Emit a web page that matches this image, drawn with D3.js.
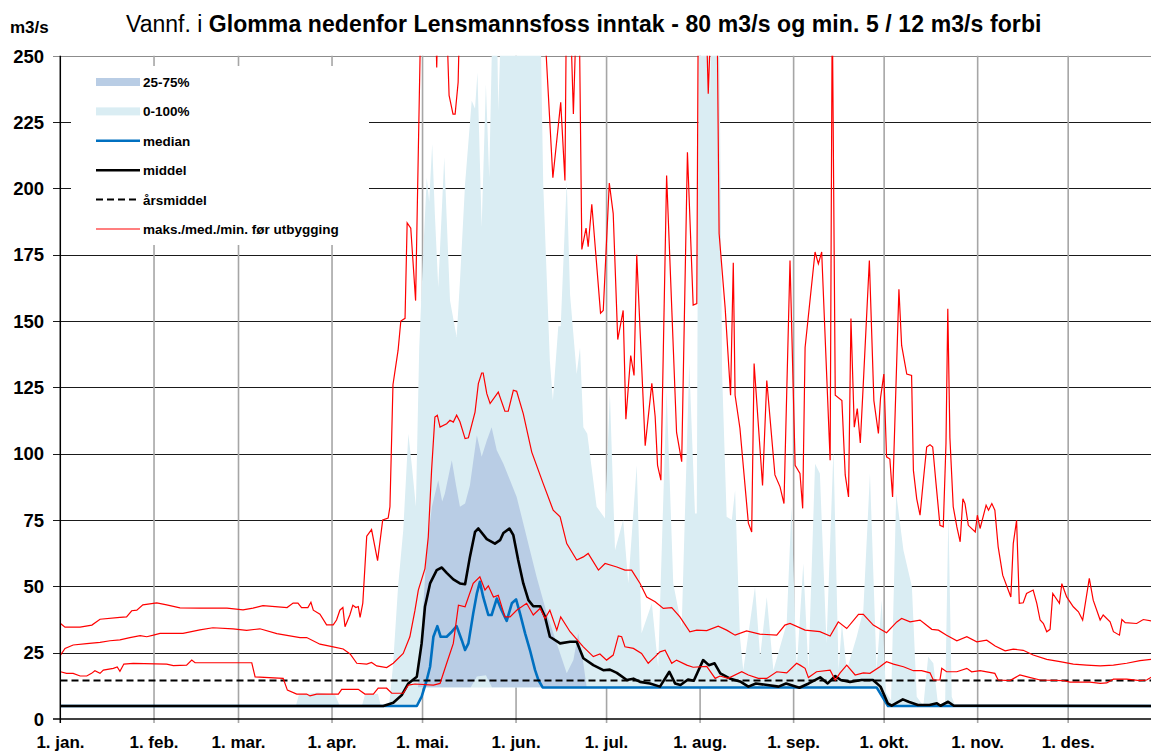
<!DOCTYPE html>
<meta charset="utf-8">
<title>Vannf. i Glomma nedenfor Lensmannsfoss inntak</title>
<style>
    body { margin: 0; background: #fff; }
    svg text { font-family: "Liberation Sans", Arial, sans-serif; }
</style>

<script src="https://d3js.org/d3.v7.min.js"></script>

<svg id="chart" width="1151" height="752"></svg>

<script>
    // --- data (day of year, m3/s) ---
    const monthStarts = [0, 31, 59, 90, 120, 151, 181, 212, 243, 273, 304, 334];
    const monthLabels = ["1. jan.", "1. feb.", "1. mar.", "1. apr.", "1. mai.", "1. jun.",
        "1. jul.", "1. aug.", "1. sep.", "1. okt.", "1. nov.", "1. des."];
    const yTicks = [0, 25, 50, 75, 100, 125, 150, 175, 200, 225, 250];
    const annualMean = 14.5;

    // 0-100% band
    const q100 = [[0,4.9],[78,4.9],[79,9],[85.4,10],[91,9],[92.6,4.9],[99.9,4.9],[100.9,9],[105.2,9.5],[106.2,4.9],
        [108.9,4.9],[110.2,20],[111.9,50],[113.6,71],[115.3,107.5],[116.5,95],[117.8,80],[118.9,140],[120.2,175],
        [121.4,204],[122.2,195],[123.2,216.7],[124.1,190],[125.2,162.7],[127.2,211.7],[129.1,157.7],[131.3,144],
        [132.4,165],[134.1,201.7],[136.3,233],[137.4,230],[138.2,243.7],[139.6,185.3],[141,239.3],[142.1,204],
        [143.3,270],[144.6,270],[145.1,229],[146.2,270],[159,270],[160,201.7],[162.2,135],[163.2,120],[165,148],
        [165.8,148],[167.8,203],[168.9,160],[171.1,130],[172.2,140],[173.3,110],[174.6,107.5],[177.7,80],
        [180.5,75.6],[182.1,122.6],[183.8,63.6],[186.5,75],[188.2,51.1],[191,95.6],[192.6,32.3],[196,43.6],
        [198.1,19.7],[200.9,123.9],[203.1,51.1],[205.9,34.8],[208.4,134],[210.3,77.5],[210.9,77.5],[211.5,250],
        [212,270],[214.6,270],[215.3,235],[215.8,270],[218.3,270],[219.3,130],[220.8,76.2],[222.5,75],[223.6,86.2],
        [225.2,31],[226.3,18.4],[230.2,49.8],[231.9,23.5],[234.1,46],[236.3,18.4],[240.7,36],[242.3,80],[244,18.4],
        [246.2,58.6],[247.9,18.4],[250.1,96.2],[251.7,92.5],[253.9,28.5],[256.2,101.3],[257.9,18.4],[259,36],
        [260.6,18.4],[263.9,31],[266.1,41],[268.3,92.5],[270.5,18.4],[272.2,44.8],[273.6,10],[275.3,7],[277,85],
        [279.4,63.6],[282.2,49.8],[283.8,8.4],[286,5],[287.6,23.5],[289.3,21],[290.9,5],[293.2,5],[294.3,77.5],
        [295.4,8.4],[296.6,4.9],[365,4.9]];
    const q0 = [[0,4.9],[118.5,4.9],[120,11.9],[270.5,11.9],[274.3,4.9],[365,4.9]];

    // 25-75% band
    const q75 = [[118.5,12],[119.8,35],[121.4,63.6],[123.1,80],[125.2,90],[126.5,82],[127.4,85],[129.7,97.5],
        [131.1,88],[132.4,80],[134.1,81.2],[135.7,88],[138,106.9],[139.6,98.8],[141.3,105],[142.9,110],[144.6,101.3],
        [146.8,96.2],[149,90],[151.2,83.7],[153.4,73.7],[155.6,63.6],[157.8,53.6],[161.2,39.8],[164.5,28.5],
        [167.8,17.2],[170,22.2],[171.6,32.3],[173.3,21],[174.4,12]];
    const q25 = [[118.5,12],[136,12],[138,16],[141,16.5],[143,12],[174.4,12]];

    const median = [[0,4.9],[118.1,4.9],[119.7,8.4],[121.4,14.7],[122.5,19.7],[123.6,31],[124.9,35],[126,31],[128,31],
        [129.7,32.9],[131.3,35],[133,29.7],[134.1,26],[135.2,28.5],[136.8,39.8],[138,47.3],[139,51.7],[140.1,46],
        [141.8,39.2],[142.9,39.2],[144.6,45.4],[146.2,41],[147.9,37],[149.6,43.6],[151,45.1],[152.3,39.8],[154,32.3],
        [155.6,26],[157.3,18.4],[158.4,14.7],[159.8,11.9],[270.5,11.9],[274.3,4.9],[365,4.9]];

    const middel = [[0,4.9],[107,4.9],[110.3,6.1],[113.1,9],[115.3,13.4],[118.1,15.9],[119.7,28.5],[120.8,42.3],
        [122.5,51.1],[124.7,56.1],[126.4,57.1],[128,55.1],[130.2,52.6],[132.4,51.1],[134.1,50.8],[135.7,61.1],
        [137.4,70.5],[138.5,71.8],[141.3,67.8],[144,66.1],[145.7,67.4],[146.8,70.1],[148.8,71.8],[150.1,69.3],
        [151.7,59.9],[153.4,51.1],[155.1,44.8],[156.7,42.5],[159,42.5],[160.6,38.5],[162.2,31],[165.6,28.5],
        [168.9,29.1],[171.1,29.1],[173.3,22.9],[176.6,20.3],[179.9,18.4],[182.1,18.6],[184.4,17.4],[187.7,14.7],
        [189.9,15.2],[192.1,14],[195.4,13.4],[198.7,12.2],[201.8,17.8],[203.7,13.4],[205.5,12.8],[208,14.9],
        [209.9,14.4],[213,22.2],[214.9,20.3],[216.8,21],[218.7,17.2],[221.8,15.3],[225.5,14],[228,12.2],[230.5,13.4],
        [234.3,12.8],[238,12.2],[240.5,13.4],[244.9,11.8],[248,13.4],[251.8,15.7],[254.3,13.4],[256.8,16.2],
        [258.6,14.7],[261.7,14],[265.5,14.7],[269.3,14.7],[271.8,12.2],[274.2,5.9],[275.5,5],[279.2,7.4],[281.1,6.5],
        [284.2,5.3],[288,5.3],[290.5,5.9],[291.7,5],[294.2,6.5],[296.1,5],[365,4.9]];

    // maks./med./min. før utbygging
    const preMax = [[0,36],[1.5,34.6],[6.5,34.6],[10.4,35.4],[13.1,37.6],[19.7,38.3],[21.9,38.5],[23.6,40.8],[25.3,41],
        [27.3,43],[31.9,43.8],[35.2,43],[39.6,41.9],[46.2,41.8],[55.2,41.8],[60.5,41.1],[63.8,41.8],[67.1,42.7],[75.1,42],
        [77.1,43.7],[78.7,43.7],[79.9,42],[82,42],[83,44],[83.8,41],[86,39.5],[88.2,35.5],[90.4,35.5],[91.5,37.3],
        [92.6,41],[93.6,42],[94.3,34.8],[95.9,39.2],[96.9,42.9],[97.9,42],[98.7,42.4],[99.3,38.3],[100.2,43.7],
        [101.5,68.9],[103.1,71.4],[105.1,59.7],[106.8,75],[108.6,75.7],[109.2,80],[110.2,126],[111.9,139],[112.8,150],
        [114.2,151],[114.9,187],[116.1,185],[117.7,157.7],[119.5,270],[124.2,270],[124.7,245.6],[125.2,270],
        [127.8,270],[128.8,235],[130.1,228],[130.8,228],[131.8,240],[132.4,270],[159,270],[161,250],[163.2,204],
        [165.8,232.4],[167.2,203],[167.7,270],[168.9,270],[170,228],[171.1,270],[171.9,270],[172.8,177],[174.2,185],
        [174.9,178],[176.1,194],[179,153],[179.9,154],[181.9,202],[183.2,190.5],[184.7,143],[186.5,154],[187.4,113],
        [189,137],[190.1,129.5],[191,175],[193.8,103],[196,126.5],[197.1,114],[197.9,95.6],[199,90],[200.9,204.8],
        [204.2,108],[205.9,97],[207.8,213.6],[209.7,156],[210.9,156.6],[211.4,270],[213.9,270],[214.7,235.7],
        [215.8,270],[217.6,270],[218.3,183],[220.3,155],[222.1,122],[223,172],[223.6,122],[225.2,109.6],[228,73.8],
        [229.1,70.5],[229.9,134],[232.7,88],[234.1,127.6],[236.8,92],[238.5,87.5],[239.8,81.2],[241.8,172.8],
        [243.5,95.6],[245.1,92.6],[246,79.4],[246.8,140],[250.1,176],[251.2,171.6],[252.3,176],[255.1,97.5],
        [255.8,270],[256.8,122],[259,120],[260.1,92],[261.2,83.7],[262,150.9],[263.1,110],[264.1,117],[265.1,104],
        [266.1,126.5],[268.1,172.8],[269.6,120],[271.1,107.6],[271.8,121],[272.9,130],[273.8,98.8],[274.9,98],
        [275.8,83.7],[277.9,162],[278.8,140.8],[280.5,130],[282.1,129.5],[282.7,93.7],[283.8,83],[284.9,76.8],
        [286,90],[287.1,102.5],[288.2,103.4],[289.1,102.5],[290.2,88.7],[291.5,73],[292.6,72.4],[293.5,103.8],
        [294.1,154.6],[294.8,106],[295.9,80],[297.1,72.4],[298.2,66.8],[299.1,83],[299.8,81.2],[300.9,73],
        [303.2,70.5],[303.9,76.8],[304.8,71.8],[306.8,80.6],[307.6,78.7],[308.7,81.2],[309.7,78.7],[310.8,64.9],
        [312.3,54.2],[315,46],[315.8,66.1],[316.9,74.9],[317.8,43.6],[319.1,43.8],[320.2,47.3],[322.4,48.6],
        [323.6,43.6],[324.7,37.3],[325.8,36],[326.9,32.9],[328,33.8],[328.9,47.3],[331.1,43.6],[331.9,51],[333.5,46],
        [335.7,42.3],[337.4,40.4],[338.8,37.3],[341,53],[342.3,44.8],[344.6,37.3],[345.6,39.2],[347.9,36.6],[349,32.9],
        [351,31.6],[351.8,37.5],[352.9,36.3],[356.7,36],[358.9,37.5],[361.5,37],[365,37.5]];

    const preMed = [[0,24.1],[1.5,26.6],[4.2,27.9],[8.7,28.4],[13.1,28.9],[16.4,29.5],[19.7,29.8],[23,30.7],[26.4,31.4],
        [28.6,31],[30.8,31.6],[33,32.3],[40.6,32.3],[46.2,33.6],[50.5,34.4],[57.2,34],[61.7,33.4],[66.1,34],[71.7,32.2],
        [79.4,30.7],[81.6,30.7],[86,28.2],[90.4,27.2],[93.7,26.4],[96,24.5],[98.2,21],[101.5,20.7],[103.1,21.3],
        [104.8,20],[108.1,19.4],[110.3,21],[113.6,24.7],[115.8,31],[117.5,41],[118.6,48.6],[120.8,56.7],[121.9,68.6],
        [123,93.8],[124.1,113.8],[124.9,114.5],[125.8,110],[128,111.3],[129.1,112.6],[130.2,111.9],[131.3,114.5],
        [132.4,112],[134.1,105.7],[135.2,106],[137.4,115.7],[138.5,126.4],[139.6,130.4],[140.1,130.4],[141.3,122.6],
        [142.4,118.9],[145.1,123.2],[147.3,116],[148.4,116],[150.1,123.9],[151.2,123.5],[153.4,115],[156.2,100.6],
        [160,88.7],[163.3,78.7],[165.6,76.2],[167.8,66.1],[171.1,59.9],[173.3,61.1],[174.9,62.4],[178.3,56.1],
        [180.5,58.6],[184.4,57.3],[187.1,56.1],[189.3,56.1],[192.1,51.1],[194.3,46],[197.1,44.2],[199.8,41.7],
        [202.6,42],[205.3,38.5],[208.6,32.9],[210.9,33.5],[214.2,33.3],[218,35],[220.8,33.5],[223.6,31.6],[227.4,33.2],
        [231.8,32],[237.4,31.6],[240.1,35.4],[241.8,36],[246.8,33.5],[251.7,32.9],[255.1,31.3],[257.8,36.6],
        [260.6,34.1],[264.5,39.4],[266.1,39.4],[269.4,35.4],[273.8,32.5],[277.2,36.6],[278.8,37.9],[281.6,36.6],
        [284.9,37.3],[288.8,33.8],[291,33.5],[293.7,31.6],[297.1,29.5],[300.4,31],[303.7,29.1],[307,29.7],[309.8,27.5],
        [313.1,25.7],[315.8,26.3],[319.1,25.9],[322.4,24.1],[326.9,22.5],[331.3,21.6],[335.7,20.7],[340.1,20.3],
        [344.6,20],[349,20.3],[353.4,21],[357.8,22],[361.5,22.5],[365,23]];

    const preMin = [[0,17.8],[2,17.2],[4.2,17.2],[6.5,16.2],[8.7,16.2],[10.3,17.2],[11.4,18.2],[13.1,17.2],[14.2,18.4],
        [17.5,19.1],[18.8,19.6],[19.7,18],[21,20.7],[24.1,21],[35.2,20.7],[37.4,20.1],[41.8,20.3],[43.5,22.2],
        [44.6,21.2],[57.3,21.2],[63.4,21.2],[64.5,15.9],[73.8,15.3],[75.2,10.9],[78.3,9.4],[81.6,9.4],[82.7,8.7],
        [84.9,9.4],[92.1,9.4],[93.2,11.2],[98.7,11.2],[100.9,9.4],[103.7,9.4],[105.3,11.6],[108.1,11.6],[109.8,9.7],
        [113.6,9.7],[115.3,12.8],[117.5,13.2],[123.6,12.8],[125.8,13.4],[128,21],[130.2,28.5],[131.9,42.9],
        [134.1,42.3],[136.8,51.1],[139,53.6],[140.7,48.6],[141.8,50.2],[143.5,46],[145.1,46.6],[147.3,38.5],
        [149,38.5],[151.2,41],[154.5,43.6],[156.7,39.2],[159,41.7],[160.6,37.9],[162.2,41],[164.5,33.5],[165.8,38.5],
        [168.9,32.9],[173.3,27.2],[176.6,23.5],[178.8,24.5],[181,22.2],[183.2,24.1],[184.9,31.3],[186,31],[187.1,27.2],
        [189.9,26.6],[192.6,24.7],[194.8,21],[197.1,23.5],[198.7,25.3],[200.4,25.9],[202.6,21],[204.2,22.2],
        [207.6,20.3],[209.7,19.5],[214.2,19.8],[217,15.3],[218.6,16.2],[221.3,15.3],[225.8,17.8],[228,16.6],
        [231.3,15.3],[234.1,15.3],[237.4,17.8],[240.7,17.4],[244,21],[245.1,20.3],[246.8,19.1],[247.9,15.6],
        [250.6,17.8],[255.1,18.4],[256.8,14.7],[258.4,17.4],[260.6,20.3],[263.4,16.6],[266.1,17.4],[268.3,17.2],
        [271.6,19.7],[273.8,21.6],[276.1,20.7],[279.4,19.7],[282.7,18.2],[285.4,18.2],[288.2,17.4],[289.3,14.7],
        [291.5,14.7],[292.1,19.1],[293.7,17.8],[297.1,17.8],[300.4,19.1],[302,17.8],[304.8,18.2],[309.7,17.2],
        [310.8,14.7],[314.7,14.5],[318,16.6],[320.8,15.8],[324.7,14.7],[332.4,14.5],[334.6,13.9],[341.2,13.9],
        [344.6,13.4],[346.8,13.6],[349,15],[353.4,15],[357.8,14.5],[360,14.7],[361.5,15.7],[365,16]];

    const legendItems = ["25-75%", "0-100%", "median", "middel", "årsmiddel", "maks./med./min. før utbygging"];

    // --- chart ---
    const svg = d3.select("#chart"),
        width = +svg.attr("width"),
        height = +svg.attr("height");

    const x = d3.scaleLinear().domain([0, 365]).range([60.5, 1161.7]);
    const y = d3.scaleLinear().domain([0, 250]).range([719, 55.7]);
    const snap = v => Math.round(v) + 0.5;

    svg.append("rect").attr("width", width).attr("height", height).attr("fill", "#fff");

    svg.append("clipPath").attr("id", "plotclip")
        .append("rect").attr("x", 60).attr("y", y(250)).attr("width", 1110).attr("height", y(0) - y(250));

    // horizontal gridlines
    svg.append("g")
        .selectAll("line")
        .data(yTicks.filter(d => d > 0))
        .join("line")
        .attr("x1", 53).attr("x2", width)
        .attr("y1", d => snap(y(d))).attr("y2", d => snap(y(d)))
        .attr("stroke", d => d === 250 ? "#8c8c8c" : "#1a1a1a")
        .attr("stroke-width", 1);

    // vertical gridlines (month starts)
    svg.append("g")
        .selectAll("line")
        .data(monthStarts.slice(1))
        .join("line")
        .attr("x1", d => x(d)).attr("x2", d => x(d))
        .attr("y1", y(250)).attr("y2", y(0) + 4)
        .attr("stroke", "#a6a6a6")
        .attr("stroke-width", 1.6);

    // legend background hides the grid
    svg.append("rect")
        .attr("x", 71).attr("y", 66).attr("width", 298).attr("height", 179)
        .attr("fill", "#fff");

    const plot = svg.append("g").attr("clip-path", "url(#plotclip)");

    const line = d3.line().x(d => x(d[0])).y(d => y(d[1]));
    const band = (upper, lower) => line(upper.concat(lower.slice().reverse())) + "Z";

    plot.append("path").attr("d", band(q100, q0)).attr("fill", "#daedf3");
    plot.append("path").attr("d", band(q75, q25)).attr("fill", "#b9cde5");

    plot.append("path").attr("d", line(median))
        .attr("fill", "none").attr("stroke", "#0070c0").attr("stroke-width", 2.6)
        .attr("stroke-linejoin", "round");

    plot.append("path").attr("d", line(middel))
        .attr("fill", "none").attr("stroke", "#000").attr("stroke-width", 2.6)
        .attr("stroke-linejoin", "round");

    plot.append("line")
        .attr("x1", x(0)).attr("x2", x(365))
        .attr("y1", y(annualMean)).attr("y2", y(annualMean))
        .attr("stroke", "#000").attr("stroke-width", 2).attr("stroke-dasharray", "7,4");

    [preMax, preMed, preMin].forEach(s => {
        plot.append("path").attr("d", line(s))
            .attr("fill", "none").attr("stroke", "#ff0000").attr("stroke-width", 1.2);
    });

    // axes
    svg.append("line")
        .attr("x1", 60.3).attr("x2", 60.3).attr("y1", y(250)).attr("y2", y(0) + 4)
        .attr("stroke", "#000").attr("stroke-width", 1.5);
    svg.append("line")
        .attr("x1", 53).attr("x2", width).attr("y1", y(0)).attr("y2", y(0))
        .attr("stroke", "#000").attr("stroke-width", 1.5);

    svg.append("g")
        .selectAll("text")
        .data(yTicks)
        .join("text")
        .attr("x", 44).attr("y", d => y(d) + 6.8)
        .attr("text-anchor", "end")
        .style("font-size", "18.5px").style("font-weight", "bold")
        .text(d => d);

    svg.append("g")
        .selectAll("text")
        .data(monthStarts)
        .join("text")
        .attr("x", d => x(d)).attr("y", 748)
        .attr("text-anchor", "middle")
        .style("font-size", "17px").style("font-weight", "bold")
        .text((d, i) => monthLabels[i]);

    // unit and title
    svg.append("text").attr("x", 10).attr("y", 33)
        .style("font-size", "17px").style("font-weight", "bold").text("m3/s");

    const title = svg.append("text").attr("x", 126).attr("y", 31.5)
        .style("font-size", "23px");
    title.append("tspan").text("Vannf. i ");
    title.append("tspan").style("font-weight", "bold").style("letter-spacing", "0.1px")
        .text("Glomma nedenfor Lensmannsfoss inntak - 80 m3/s og min. 5 / 12 m3/s forbi");

    // legend
    const lg = svg.append("g").selectAll("g")
        .data(legendItems)
        .join("g")
        .attr("transform", (d, i) => `translate(96, ${82 + i * 29.4})`);

    lg.each(function (d, i) {
        const g = d3.select(this);
        if (i < 2) {
            g.append("rect").attr("x", 0).attr("y", -4).attr("width", 44).attr("height", 8)
                .attr("fill", i === 0 ? "#b9cde5" : "#daedf3");
        } else {
            const stroke = i === 5 ? "#ff0000" : (i === 2 ? "#0070c0" : "#000");
            g.append("line").attr("x1", 0).attr("x2", 44).attr("y1", 0).attr("y2", 0)
                .attr("stroke", stroke)
                .attr("stroke-width", i === 5 ? 1.2 : (i === 4 ? 2 : 2.6))
                .attr("stroke-dasharray", i === 4 ? "7,4" : null);
        }
        g.append("text").attr("x", 47).attr("y", 5)
            .style("font-size", "13.5px").style("font-weight", "bold")
            .text(d);
    });
</script>
